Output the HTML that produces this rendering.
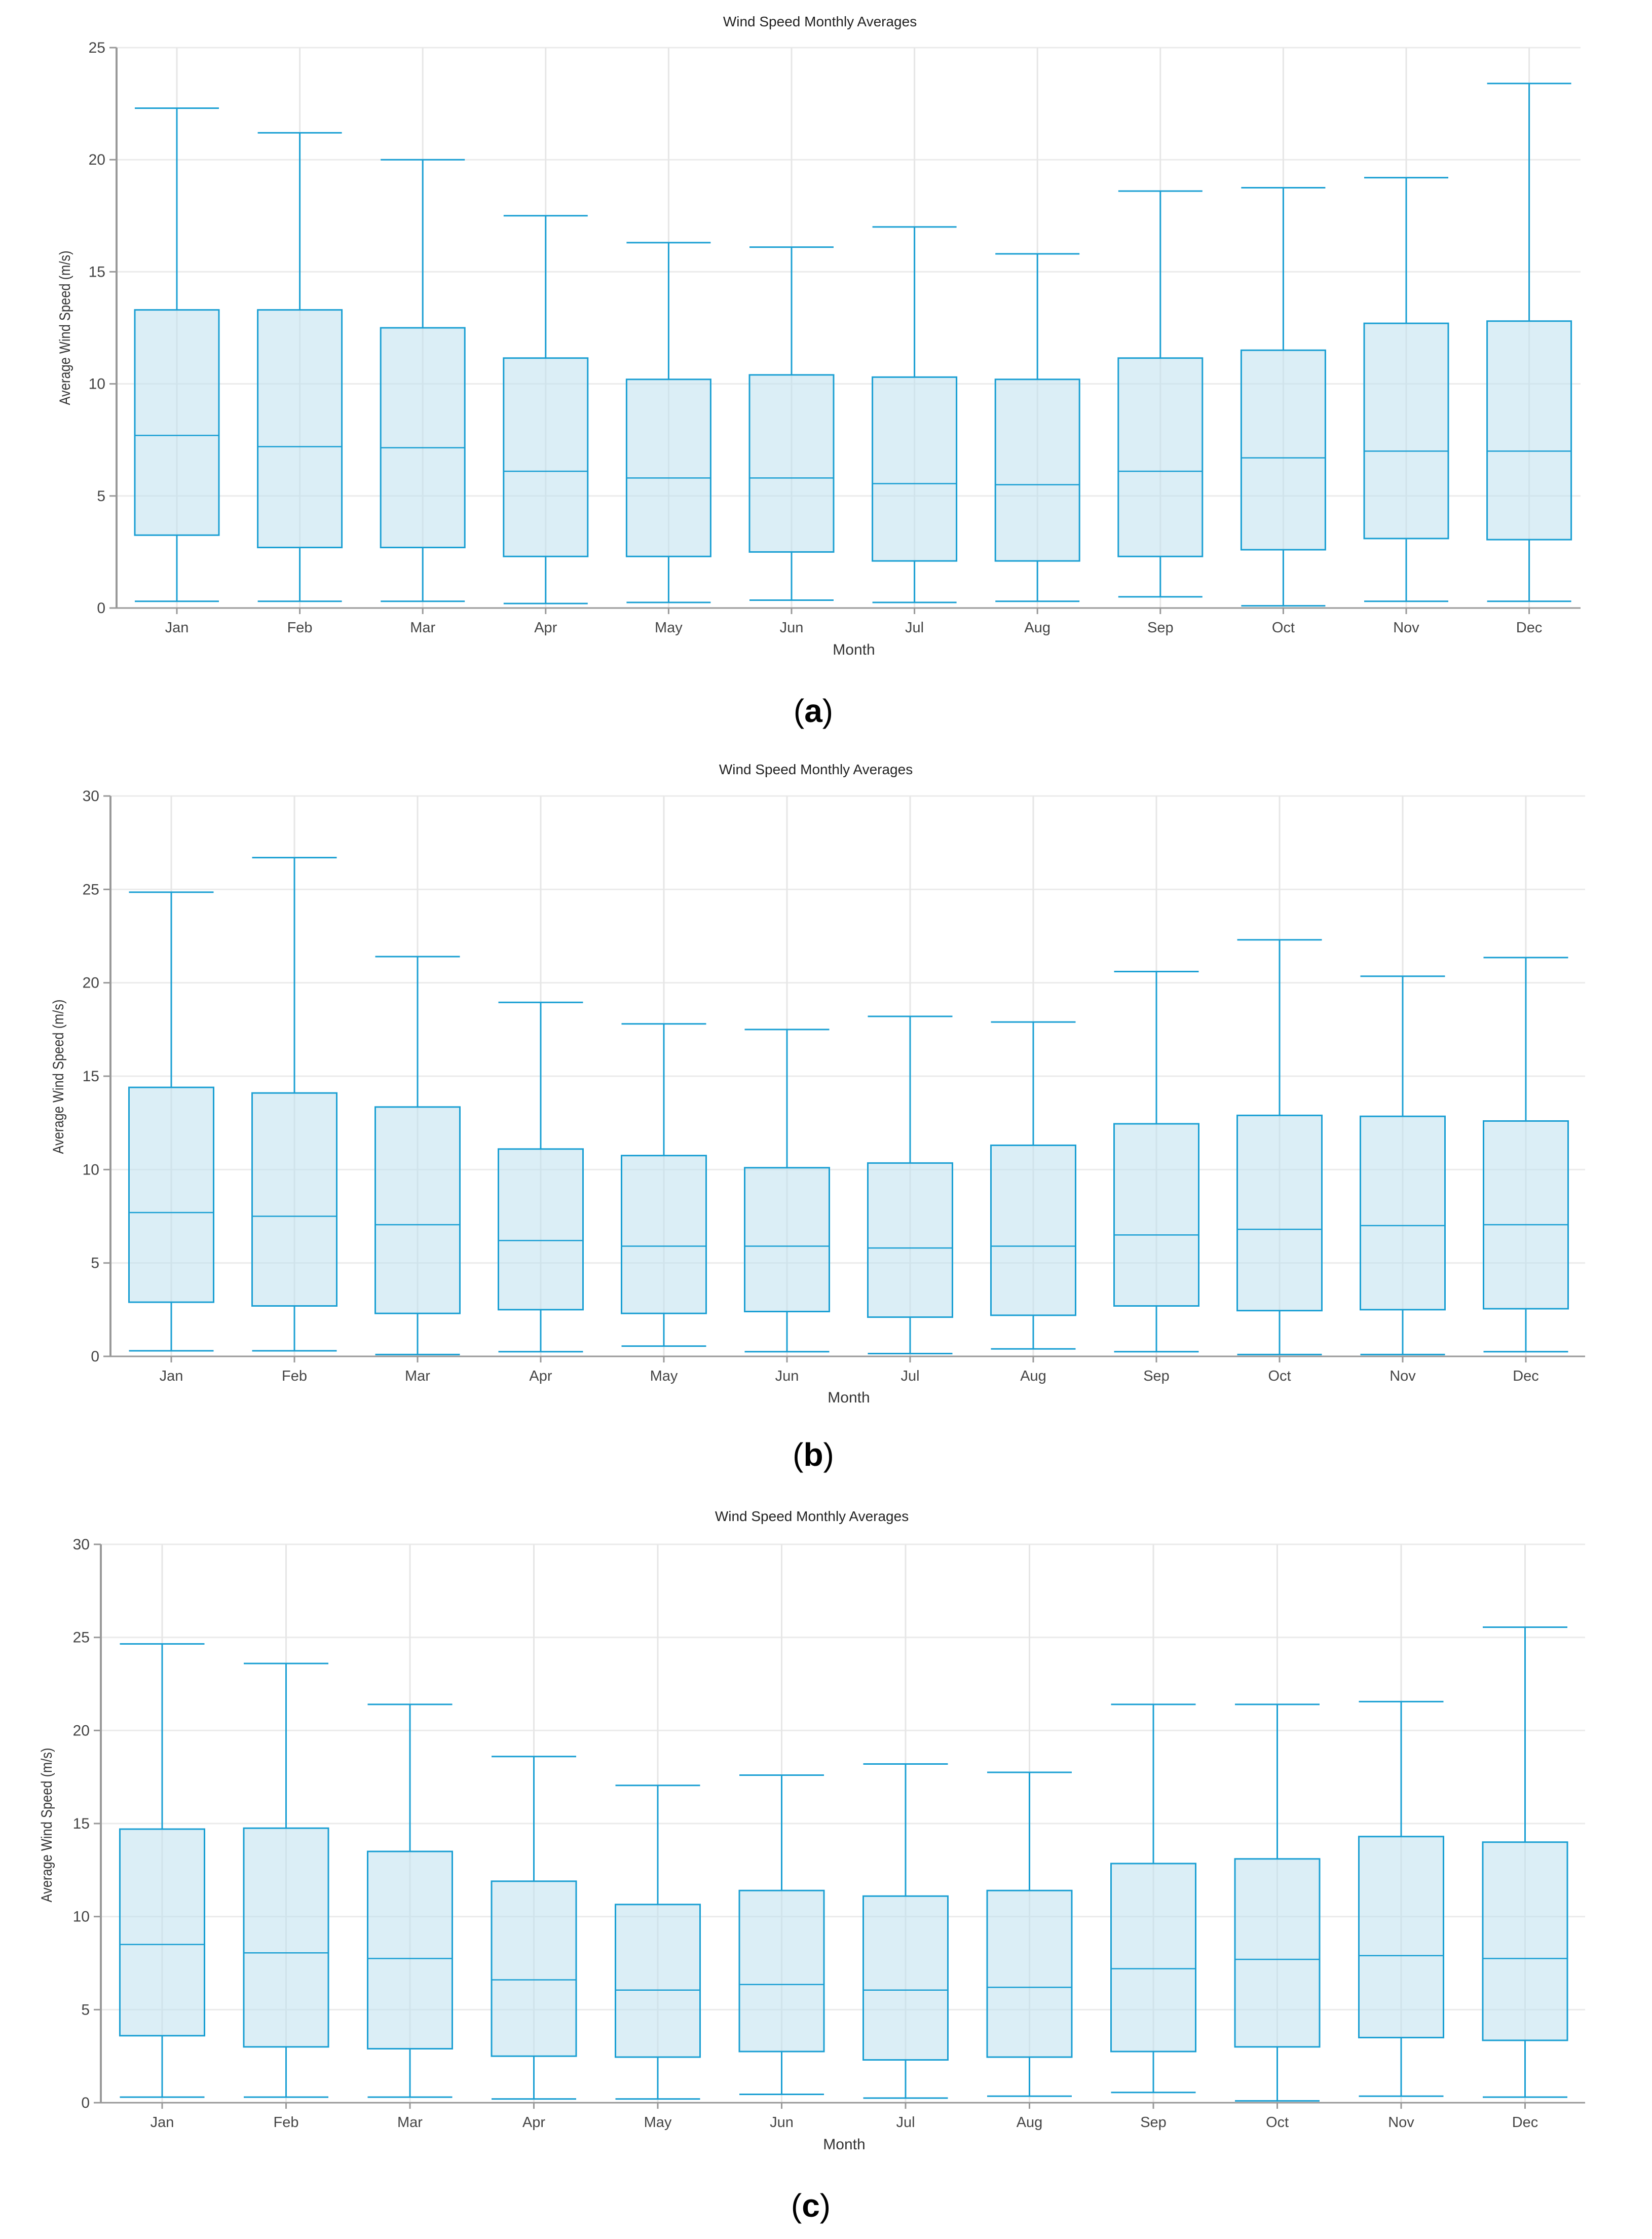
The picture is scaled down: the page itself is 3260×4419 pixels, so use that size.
<!DOCTYPE html>
<html><head><meta charset="utf-8"><style>
html,body{margin:0;padding:0;background:#fff;}
svg{display:block;}
text{font-family:"Liberation Sans",sans-serif;}
</style></head><body>
<svg id="fig" width="3260" height="4419" viewBox="0 0 3260 4419" xmlns="http://www.w3.org/2000/svg"></svg>
<script>
const months = ["Jan","Feb","Mar","Apr","May","Jun","Jul","Aug","Sep","Oct","Nov","Dec"];
// Chart (a)
const aMax = [22.3,21.2,20.0,17.5,16.3,16.1,17.0,15.8,18.6,18.75,19.2,23.4];
const aQ3  = [13.3,13.3,12.5,11.15,10.2,10.4,10.3,10.2,11.15,11.5,12.7,12.8];
const aMed = [7.7,7.2,7.15,6.1,5.8,5.8,5.55,5.5,6.1,6.7,7.0,7.0];
const aQ1  = [3.25,2.7,2.7,2.3,2.3,2.5,2.1,2.1,2.3,2.6,3.1,3.05];
const aMin = [0.3,0.3,0.3,0.2,0.25,0.35,0.25,0.3,0.5,0.1,0.3,0.3];
const aTicks = [0,5,10,15,20,25];
// Chart (b)
const bMax = [24.85,26.7,21.4,18.95,17.8,17.5,18.2,17.9,20.6,22.3,20.35,21.35];
const bQ3  = [14.4,14.1,13.35,11.1,10.75,10.1,10.35,11.3,12.45,12.9,12.85,12.6];
const bMed = [7.7,7.5,7.05,6.2,5.9,5.9,5.8,5.9,6.5,6.8,7.0,7.05];
const bQ1  = [2.9,2.7,2.3,2.5,2.3,2.4,2.1,2.2,2.7,2.45,2.5,2.55];
const bMin = [0.3,0.3,0.1,0.25,0.55,0.25,0.15,0.4,0.25,0.1,0.1,0.25];
const bTicks = [0,5,10,15,20,25,30];
// Chart (c)
const cMax = [24.65,23.6,21.4,18.6,17.05,17.6,18.2,17.75,21.4,21.4,21.55,25.55];
const cQ3  = [14.7,14.75,13.5,11.9,10.65,11.4,11.1,11.4,12.85,13.1,14.3,14.0];
const cMed = [8.5,8.05,7.75,6.6,6.05,6.35,6.05,6.2,7.2,7.7,7.9,7.75];
const cQ1  = [3.6,3.0,2.9,2.5,2.45,2.75,2.3,2.45,2.75,3.0,3.5,3.35];
const cMin = [0.3,0.3,0.3,0.2,0.2,0.45,0.25,0.35,0.55,0.1,0.35,0.3];
const cTicks = [0,5,10,15,20,25,30];

const NS="http://www.w3.org/2000/svg";
const fig=document.getElementById('fig');
function mk(tag,attrs,parent,txt){const e=document.createElementNS(NS,tag);for(const k in attrs)e.setAttribute(k,attrs[k]);if(txt!==undefined)e.textContent=txt;(parent||fig).appendChild(e);return e;}

function drawChart(cfg){
  const g=mk('g',{});
  
  
  const yMax=cfg.ticks[cfg.ticks.length-1];
  const y=v=>cfg.y0-(cfg.y0-cfg.yTop)*v/yMax;
  const x=i=>cfg.x0+i*cfg.step;
  // horizontal grid
  cfg.ticks.forEach(t=>{
    const l=mk('line',{x1:cfg.axisX,x2:cfg.right,y1:y(t),y2:y(t),stroke:'#ebebeb','stroke-width':3},g);
    
    
    mk('line',{x1:cfg.axisX-14,x2:cfg.axisX,y1:y(t),y2:y(t),stroke:'#999','stroke-width':3},g);
    const tx=mk('text',{x:cfg.axisX-22,y:y(t)+10,'text-anchor':'end','font-size':30,fill:'#444'},g,String(t));
    
    
  });
  // vertical grid
  months.forEach((m,i)=>{
    const l=mk('line',{x1:x(i),x2:x(i),y1:cfg.yTop,y2:cfg.y0,stroke:'#e6e6e6','stroke-width':3},g);
    
    
  });
  // boxes
  const hw=cfg.boxW/2, col='#1a9fd3';
  months.forEach((m,i)=>{
    const b=mk('g',{},g);
    
    
    const cx=x(i);
    mk('line',{x1:cx,x2:cx,y1:y(cfg.max[i]),y2:y(cfg.q3[i]),stroke:col,'stroke-width':3},b);
    mk('line',{x1:cx,x2:cx,y1:y(cfg.q1[i]),y2:y(cfg.min[i]),stroke:col,'stroke-width':3},b);
    mk('line',{x1:cx-hw,x2:cx+hw,y1:y(cfg.max[i]),y2:y(cfg.max[i]),stroke:col,'stroke-width':3},b);
    mk('line',{x1:cx-hw,x2:cx+hw,y1:y(cfg.min[i]),y2:y(cfg.min[i]),stroke:col,'stroke-width':3},b);
    mk('rect',{x:cx-hw,y:y(cfg.q3[i]),width:cfg.boxW,height:y(cfg.q1[i])-y(cfg.q3[i]),fill:'rgba(190,224,238,0.55)',stroke:col,'stroke-width':3},b);
    mk('line',{x1:cx-hw,x2:cx+hw,y1:y(cfg.med[i]),y2:y(cfg.med[i]),stroke:col,'stroke-width':2.5},b);
    mk('line',{x1:cx,x2:cx,y1:cfg.y0,y2:cfg.y0+12,stroke:'#999','stroke-width':3},g);
    const t=mk('text',{x:cx,y:cfg.y0+48,'text-anchor':'middle','font-size':29,fill:'#444'},g,m);
    
    
  });
  // axes
  const ax=mk('line',{x1:cfg.axisX,x2:cfg.axisX,y1:cfg.yTop,y2:cfg.y0,stroke:'#999','stroke-width':4},g);
  
  
  const bx=mk('line',{x1:cfg.axisX,x2:cfg.right,y1:cfg.y0,y2:cfg.y0,stroke:'#999','stroke-width':3},g);
  
  
  const ti=mk('text',{x:cfg.titleX,y:cfg.titleY,'text-anchor':'middle','font-size':28,fill:'#222'},g,'Wind Speed Monthly Averages');
  
  
  const xt=mk('text',{x:cfg.monthX,y:cfg.monthY,'text-anchor':'middle','font-size':30,fill:'#333'},g,'Month');
  
  
  const yt=mk('text',{x:0,y:0,'text-anchor':'middle','font-size':30,fill:'#333',textLength:305,lengthAdjust:'spacingAndGlyphs',transform:'translate('+cfg.ytX+','+cfg.ytY+') rotate(-90)'},g,'Average Wind Speed (m/s)');
  
  
  const lab=mk('text',{x:cfg.labX,y:cfg.labY,'text-anchor':'middle','font-size':64,fill:'#000','font-family':'"Liberation Serif",serif'},g);
  mk('tspan',{},lab,'(');
  mk('tspan',{'font-weight':'bold'},lab,cfg.id);
  mk('tspan',{},lab,')');
  
  
}

drawChart({id:'a',max:aMax,q3:aQ3,med:aMed,q1:aQ1,min:aMin,ticks:aTicks,
  axisX:230,right:3119,yTop:94,y0:1200,x0:349,step:242.6,boxW:166,
  titleX:1618,titleY:52,monthX:1685,monthY:1292,ytX:138,ytY:647,labX:1605,labY:1425});
drawChart({id:'b',max:bMax,q3:bQ3,med:bMed,q1:bQ1,min:bMin,ticks:bTicks,
  axisX:218,right:3128,yTop:1571,y0:2677,x0:338,step:243,boxW:167,
  titleX:1610,titleY:1528,monthX:1675,monthY:2768,ytX:125,ytY:2125,labX:1605,labY:2893});
drawChart({id:'c',max:cMax,q3:cQ3,med:cMed,q1:cQ1,min:cMin,ticks:cTicks,
  axisX:199,right:3128,yTop:3048,y0:4150,x0:320,step:244.5,boxW:167,
  titleX:1602,titleY:3002,monthX:1666,monthY:4242,ytX:102,ytY:3602,labX:1600,labY:4375});
</script>
</body></html>
